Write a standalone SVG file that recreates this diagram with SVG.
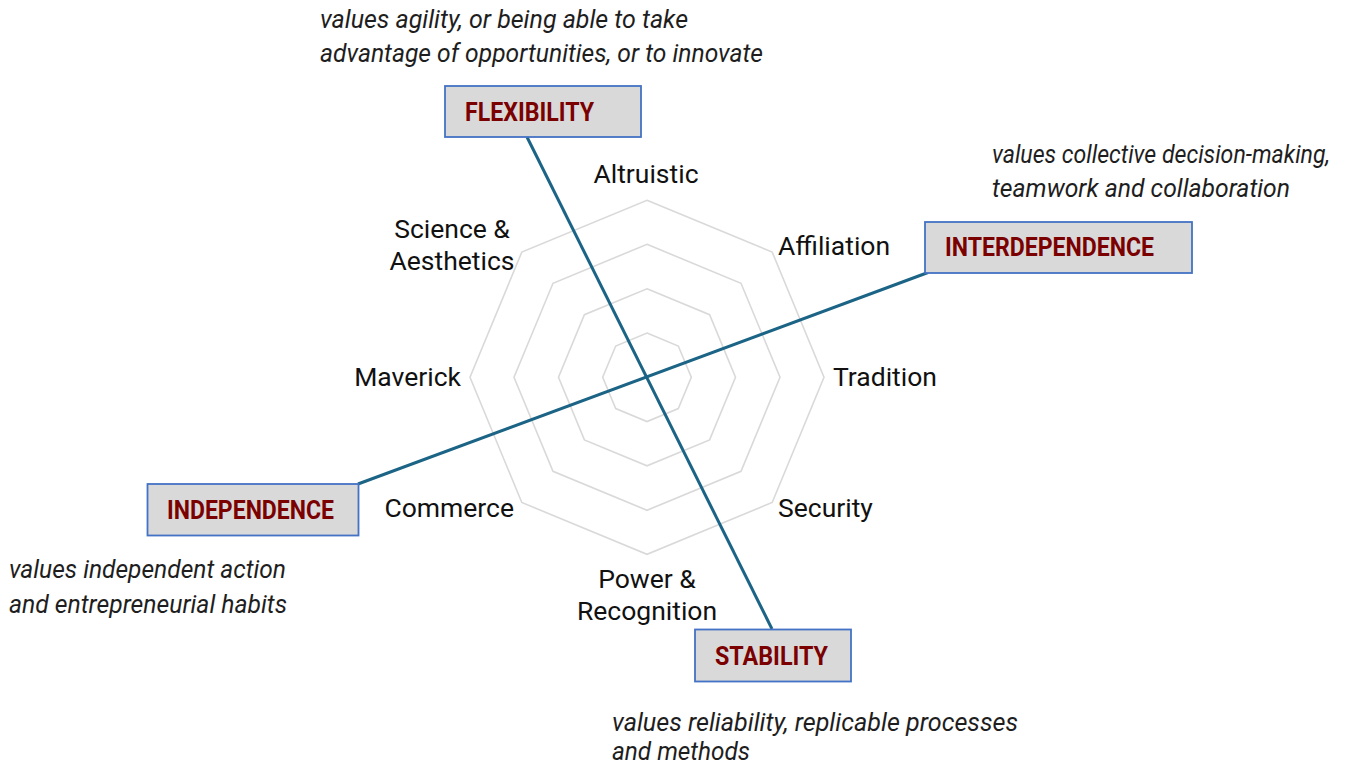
<svg xmlns="http://www.w3.org/2000/svg" width="1372" height="765" viewBox="0 0 1372 765">
<style>
.ring{fill:none;stroke:#d9d9d9;stroke-width:1.6}
.lbl{font-family:Roboto,"Liberation Sans",sans-serif;font-size:26.5px;fill:#111}
.note{font-family:Roboto,"Liberation Sans",sans-serif;font-size:26.5px;font-style:italic;fill:#1e1e1e}
.box{fill:#d9d9d9;stroke:#4472c4;stroke-width:1.8}
.btxt{font-family:Roboto,"Liberation Sans",sans-serif;font-size:26px;font-weight:bold;fill:#7b0000}
.axis{stroke:#1b6486;stroke-width:3;fill:none}
</style>
<rect width="1372" height="765" fill="#ffffff"/>
<g id="radar">
<polygon class="ring" points="647,200.3 772.2,252.1 824,377.3 772.2,502.5 647,554.3 521.8,502.5 470,377.3 521.8,252.1"/>
<polygon class="ring" points="647,244.3 741,283.3 780,377.3 741,471.3 647,510.3 553,471.3 514,377.3 553,283.3"/>
<polygon class="ring" points="647,288.8 709.6,314.7 735.5,377.3 709.6,439.9 647,465.8 584.4,439.9 558.5,377.3 584.4,314.7"/>
<polygon class="ring" points="647,333 678.3,346 691.3,377.3 678.3,408.6 647,421.6 615.7,408.6 602.7,377.3 615.7,346"/>
</g>
<g id="labels">
<text class="lbl" x="646" y="183" text-anchor="middle">Altruistic</text>
<text class="lbl" x="778" y="255">Affiliation</text>
<text class="lbl" x="833" y="386">Tradition</text>
<text class="lbl" x="778" y="517">Security</text>
<text class="lbl" x="647" y="588" text-anchor="middle">Power &amp;</text>
<text class="lbl" x="647" y="620" text-anchor="middle">Recognition</text>
<text class="lbl" x="514" y="517" text-anchor="end">Commerce</text>
<text class="lbl" x="461" y="386" text-anchor="end">Maverick</text>
<text class="lbl" x="452" y="238" text-anchor="middle">Science &amp;</text>
<text class="lbl" x="452" y="270" text-anchor="middle">Aesthetics</text>
</g>
<g id="connectors">
<line class="axis" x1="527" y1="137" x2="772" y2="629"/>
<line class="axis" x1="928" y1="272.5" x2="358" y2="484"/>
</g>
<g id="flexibility">
<rect class="box" x="445" y="86" width="196" height="51"/>
<text class="btxt" x="465" y="121" textLength="129" lengthAdjust="spacingAndGlyphs">FLEXIBILITY</text>
<text class="note" x="320" y="28" textLength="368" lengthAdjust="spacingAndGlyphs">values agility, or being able to take</text>
<text class="note" x="320" y="62" textLength="443" lengthAdjust="spacingAndGlyphs">advantage of opportunities, or to innovate</text>
</g>
<g id="interdependence">
<rect class="box" x="925" y="222" width="267" height="51"/>
<text class="btxt" x="945" y="256" textLength="209" lengthAdjust="spacingAndGlyphs">INTERDEPENDENCE</text>
<text class="note" x="992" y="163" textLength="338" lengthAdjust="spacingAndGlyphs">values collective decision-making,</text>
<text class="note" x="992" y="197" textLength="298" lengthAdjust="spacingAndGlyphs">teamwork and collaboration</text>
</g>
<g id="independence">
<rect class="box" x="147.5" y="484" width="211" height="51.5"/>
<text class="btxt" x="167" y="518.5" textLength="167" lengthAdjust="spacingAndGlyphs">INDEPENDENCE</text>
<text class="note" x="9" y="578" textLength="277" lengthAdjust="spacingAndGlyphs">values independent action</text>
<text class="note" x="9" y="613" textLength="278" lengthAdjust="spacingAndGlyphs">and entrepreneurial habits</text>
</g>
<g id="stability">
<rect class="box" x="695" y="629.5" width="156" height="52"/>
<text class="btxt" x="715" y="665" textLength="113" lengthAdjust="spacingAndGlyphs">STABILITY</text>
<text class="note" x="612" y="731" textLength="406" lengthAdjust="spacingAndGlyphs">values reliability, replicable processes</text>
<text class="note" x="612" y="760" textLength="138" lengthAdjust="spacingAndGlyphs">and methods</text>
</g>
</svg>
